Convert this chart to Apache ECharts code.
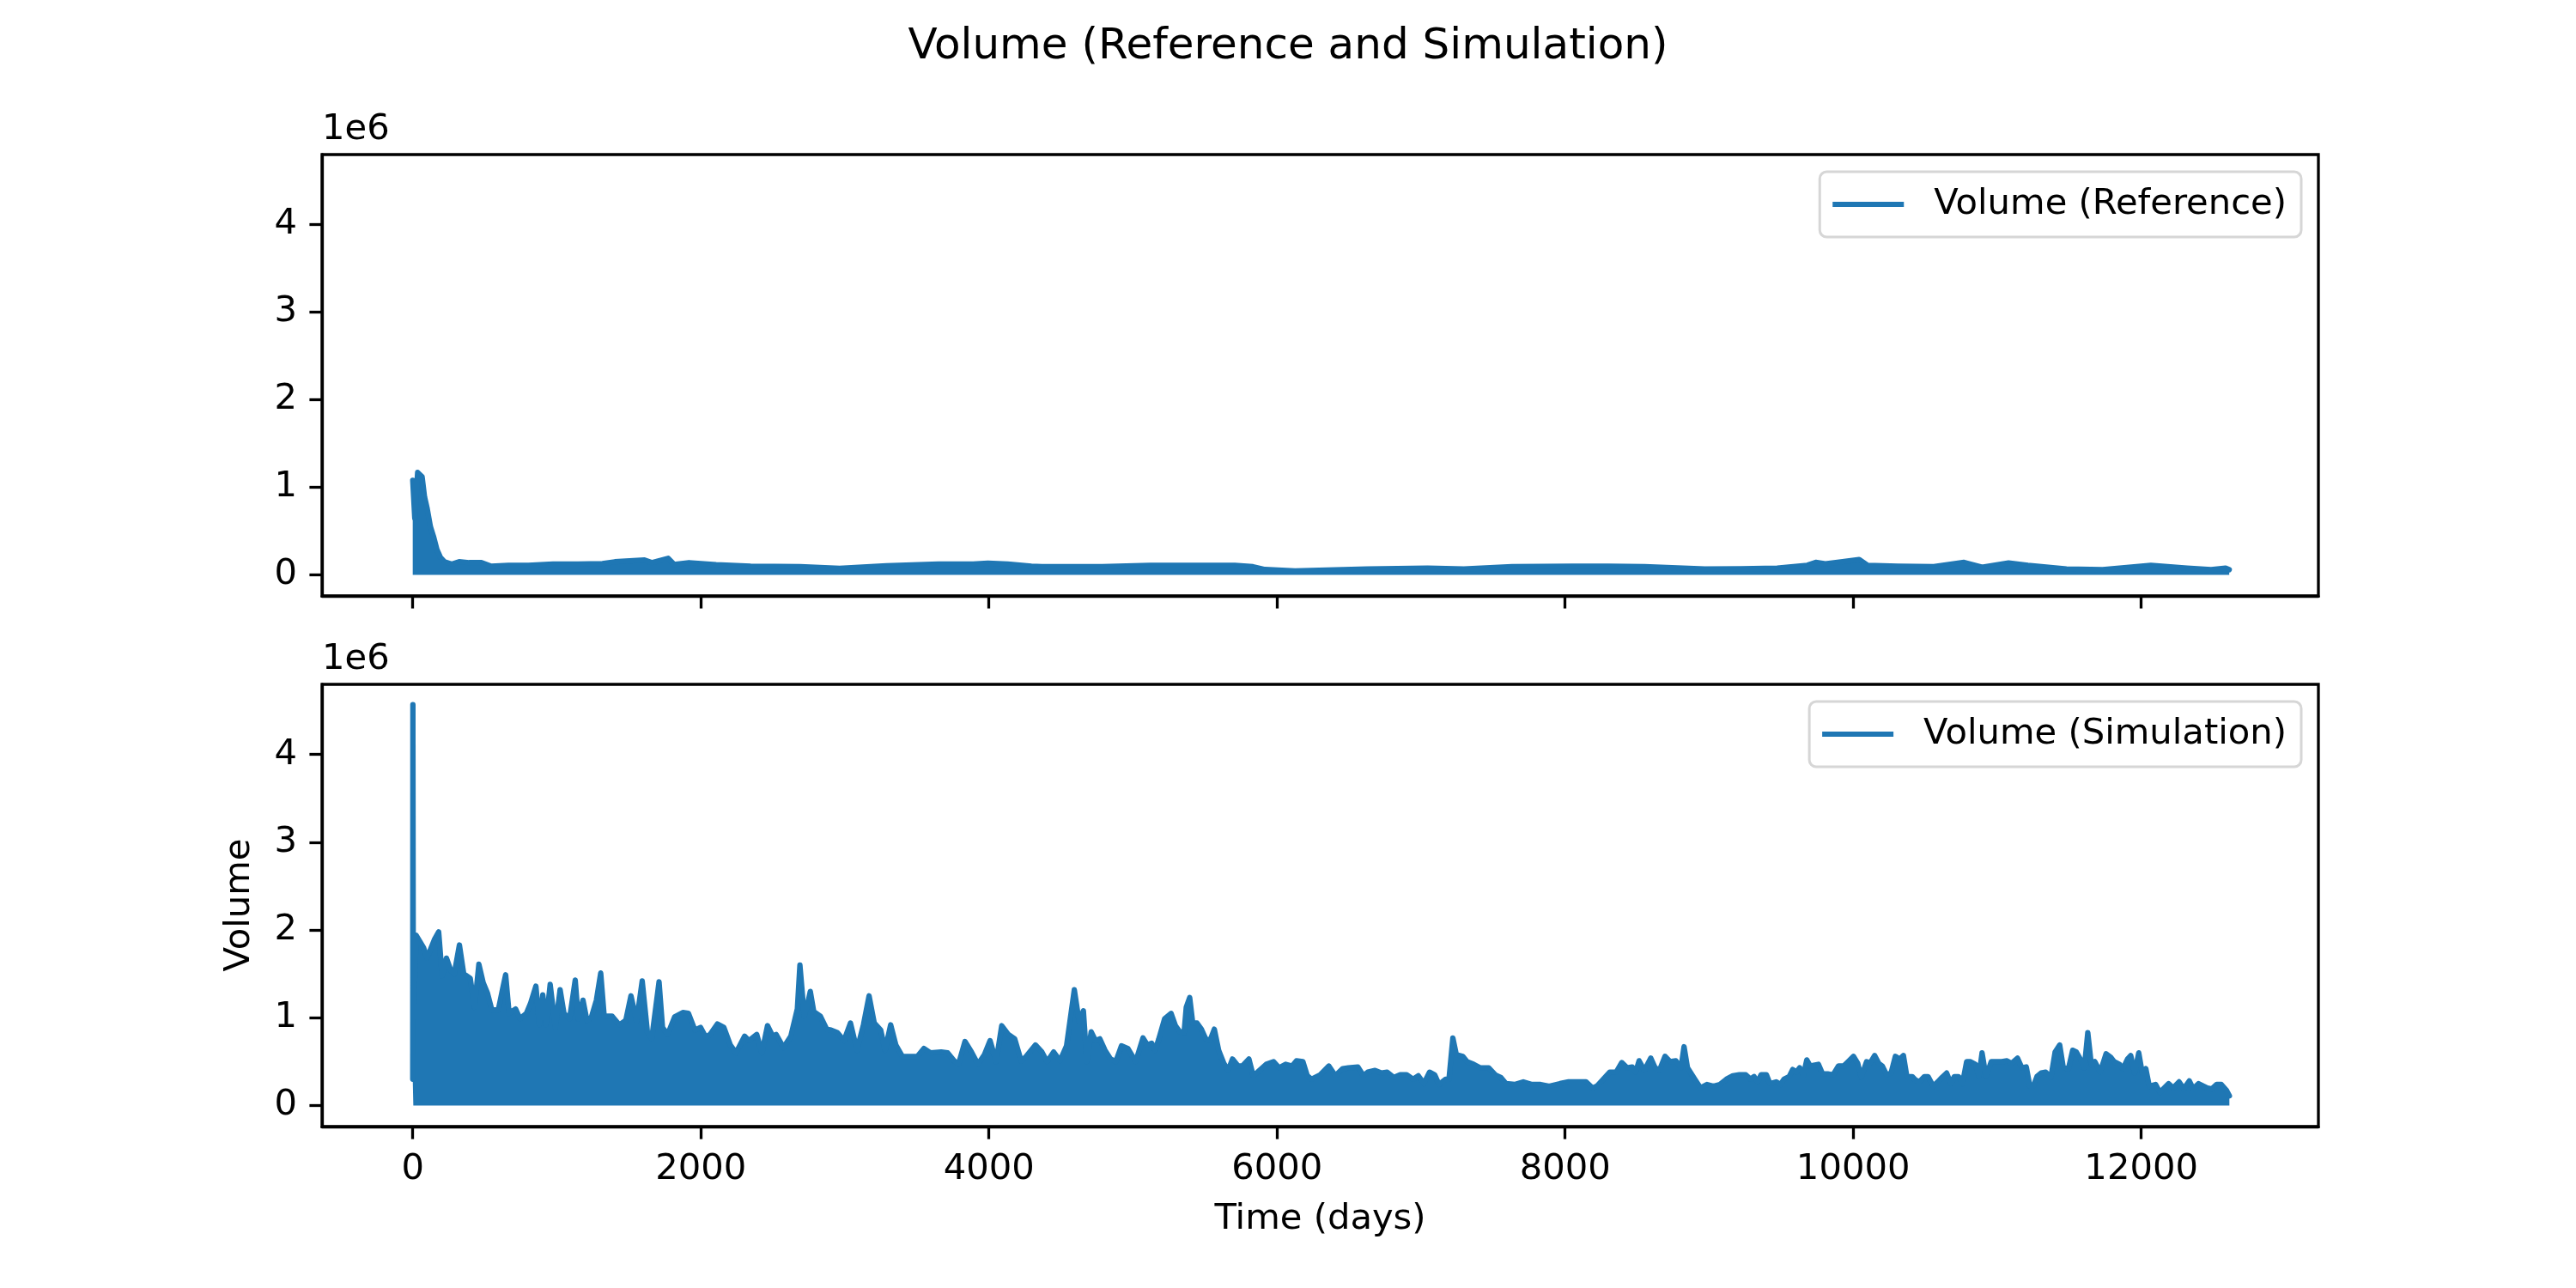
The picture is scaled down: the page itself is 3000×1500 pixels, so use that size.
<!DOCTYPE html>
<html>
<head>
<meta charset="utf-8">
<script src="https://cdn.jsdelivr.net/npm/echarts@6/dist/echarts.min.js"></script>
<style>
html, body { margin: 0; padding: 0; background: #fff; }
#chart { width: 3000px; height: 1500px; }
</style>
</head>
<body>
<div id="chart"></div>
<script>
// upper edge of the daily volume band (day, volume)
var refDays = [0, 14, 34, 65, 82, 100, 123, 144, 168, 192, 220, 271, 322, 391, 477, 545, 665, 803, 974, 1146,
	1317, 1403, 1609, 1660, 1773, 1814, 1917, 2106, 2346, 2689, 2963, 3289, 3650, 3890, 3993, 4130, 4295, 4368, 4786, 5121,
	5289, 5707, 5833, 5916, 6125, 6627, 7046, 7297, 7632, 8050, 8301, 8552, 8971, 9222, 9473, 9682, 9740, 9807, 9891, 10042,
	10100, 10309, 10560, 10770, 10895, 11079, 11213, 11481, 11732, 12067, 12318, 12485, 12586, 12611];
var refVolume = [1.08e6, 0.65e6, 1.17e6, 1.12e6, 0.89e6, 0.76e6, 0.55e6, 0.44e6, 0.29e6, 0.20e6,
	0.15e6, 0.124e6, 0.15e6, 0.14e6, 0.14e6, 0.10e6, 0.11e6, 0.11e6, 0.124e6, 0.124e6,
	0.13e6, 0.15e6, 0.17e6, 0.14e6, 0.19e6, 0.12e6, 0.14e6, 0.116e6, 0.10e6, 0.095e6,
	0.075e6, 0.105e6, 0.124e6, 0.124e6, 0.135e6, 0.124e6, 0.10e6, 0.094e6, 0.094e6, 0.11e6,
	0.11e6, 0.11e6, 0.094e6, 0.062e6, 0.045e6, 0.068e6, 0.078e6, 0.068e6, 0.094e6, 0.10e6,
	0.10e6, 0.094e6, 0.068e6, 0.071e6, 0.078e6, 0.11e6, 0.143e6, 0.127e6, 0.143e6, 0.176e6,
	0.11e6, 0.10e6, 0.094e6, 0.143e6, 0.088e6, 0.137e6, 0.11e6, 0.068e6, 0.061e6, 0.11e6,
	0.078e6, 0.061e6, 0.078e6, 0.06e6];

var simDays = [0, 1, 4, 24, 75, 99, 150, 180, 204, 234, 264, 288, 324, 354, 399, 429, 459, 489, 519, 549,
	594, 624, 645, 669, 714, 744, 789, 819, 855, 879, 903, 924, 954, 990, 1023, 1050, 1089, 1128, 1149, 1182,
	1209, 1239, 1275, 1305, 1329, 1383, 1434, 1479, 1515, 1554, 1593, 1629, 1659, 1710, 1734, 1770, 1818, 1875, 1914, 1959,
	1998, 2034, 2064, 2115, 2160, 2205, 2244, 2304, 2334, 2388, 2424, 2463, 2499, 2523, 2574, 2625, 2670, 2688, 2718, 2739,
	2760, 2784, 2829, 2874, 2904, 2949, 2994, 3039, 3084, 3129, 3168, 3204, 3249, 3279, 3318, 3354, 3399, 3459, 3504, 3549,
	3594, 3669, 3714, 3759, 3789, 3834, 3879, 3924, 3969, 4008, 4050, 4089, 4134, 4179, 4224, 4254, 4323, 4368, 4404, 4449,
	4494, 4539, 4593,
	4626, 4656, 4680, 4710, 4740, 4770, 4806, 4845, 4881, 4920, 4965, 5019, 5070, 5100, 5130, 5154, 5178, 5220, 5265, 5295,
	5325, 5355, 5370, 5394, 5415, 5445, 5475, 5505, 5535, 5565, 5595, 5631, 5661, 5691, 5730, 5760, 5805, 5835, 5865, 5925,
	5976, 6015, 6060, 6105, 6135, 6180, 6210, 6240, 6300, 6360, 6405, 6456, 6495, 6561, 6600, 6630, 6681, 6726, 6765, 6810,
	6855, 6900, 6945, 6981, 7020, 7059, 7095, 7125, 7170, 7194, 7221, 7245, 7290, 7320, 7365, 7410, 7470, 7515, 7554, 7590,
	7650, 7710, 7770, 7830, 7890, 7965, 8025, 8085, 8145, 8190, 8220, 8265, 8310, 8355, 8394, 8430, 8466, 8490, 8514, 8550,
	8595, 8625, 8655, 8694, 8730, 8769, 8805, 8826, 8850, 8901, 8940, 8985, 9030, 9075, 9120, 9165, 9210, 9255,
	9288, 9312, 9337, 9361, 9398, 9422, 9466, 9495, 9520, 9556, 9580, 9605, 9629, 9654, 9678, 9702, 9727, 9759, 9788, 9824,
	9861, 9898, 9934, 9971, 10002, 10032, 10056, 10093, 10117, 10149, 10178, 10202, 10232, 10263, 10293, 10324, 10349, 10373, 10410, 10434,
	10459, 10495, 10520, 10556, 10588, 10617, 10649, 10678, 10702, 10732, 10759, 10788, 10812, 10849, 10873, 10895, 10922, 10959, 10995, 11032,
	11068, 11100, 11141, 11171, 11202, 11227, 11251, 11276, 11305, 11337, 11373, 11402, 11434, 11459, 11495, 11524, 11549, 11580, 11605, 11629,
	11654, 11678, 11715, 11756, 11788, 11812, 11849, 11873, 11905, 11927, 11954, 11983, 12007, 12032, 12056, 12100, 12129, 12190, 12222, 12263,
	12295, 12334, 12361, 12398, 12434, 12458, 12490, 12524, 12556, 12593, 12612];
var simVolume = [0.30e6, 4.57e6, 1.00e6, 1.94e6, 1.80e6, 1.68e6, 1.89e6, 1.98e6, 1.48e6, 1.68e6,
	1.54e6, 1.50e6, 1.83e6, 1.50e6, 1.45e6, 1.12e6, 1.61e6, 1.40e6, 1.28e6, 1.09e6,
	1.09e6, 1.33e6, 1.49e6, 1.05e6, 1.10e6, 0.99e6, 1.05e6, 1.17e6, 1.36e6, 0.92e6,
	1.26e6, 0.92e6, 1.38e6, 0.89e6, 1.32e6, 1.05e6, 0.99e6, 1.43e6, 0.99e6, 1.20e6,
	0.97e6, 1.00e6, 1.20e6, 1.51e6, 1.02e6, 1.02e6, 0.92e6, 0.97e6, 1.25e6, 0.96e6,
	1.42e6, 0.84e6, 0.76e6, 1.41e6, 0.89e6, 0.81e6, 1.01e6, 1.06e6, 1.05e6, 0.86e6,
	0.89e6, 0.78e6, 0.81e6, 0.93e6, 0.89e6, 0.69e6, 0.60e6, 0.79e6, 0.74e6, 0.81e6,
	0.60e6, 0.91e6, 0.79e6, 0.81e6, 0.66e6, 0.79e6, 1.10e6, 1.60e6, 1.02e6, 1.14e6,
	1.30e6, 1.07e6, 1.02e6, 0.87e6, 0.86e6, 0.83e6, 0.74e6, 0.94e6, 0.63e6, 0.92e6,
	1.25e6, 0.94e6, 0.86e6, 0.63e6, 0.92e6, 0.69e6, 0.56e6, 0.56e6, 0.56e6, 0.65e6,
	0.60e6, 0.61e6, 0.60e6, 0.51e6, 0.47e6, 0.73e6, 0.61e6, 0.47e6, 0.58e6, 0.74e6,
	0.50e6, 0.91e6, 0.81e6, 0.76e6, 0.51e6, 0.55e6, 0.69e6, 0.61e6, 0.50e6, 0.61e6,
	0.51e6, 0.68e6, 1.32e6,
	0.96e6, 1.08e6, 0.50e6, 0.84e6, 0.74e6, 0.76e6, 0.63e6, 0.53e6, 0.50e6, 0.68e6,
	0.65e6, 0.50e6, 0.77e6, 0.69e6, 0.71e6, 0.63e6, 0.75e6, 0.99e6, 1.05e6, 0.91e6,
	0.84e6, 0.83e6, 1.12e6, 1.23e6, 0.94e6, 0.94e6, 0.87e6, 0.76e6, 0.74e6, 0.87e6,
	0.63e6, 0.48e6, 0.40e6, 0.53e6, 0.45e6, 0.45e6, 0.53e6, 0.34e6, 0.38e6, 0.47e6,
	0.50e6, 0.43e6, 0.47e6, 0.45e6, 0.51e6, 0.50e6, 0.34e6, 0.30e6, 0.35e6, 0.45e6,
	0.34e6, 0.42e6, 0.43e6, 0.44e6, 0.34e6, 0.38e6, 0.40e6, 0.37e6, 0.38e6, 0.32e6,
	0.35e6, 0.35e6, 0.30e6, 0.34e6, 0.25e6, 0.38e6, 0.35e6, 0.24e6, 0.30e6, 0.30e6,
	0.77e6, 0.58e6, 0.56e6, 0.50e6, 0.47e6, 0.43e6, 0.43e6, 0.35e6, 0.32e6, 0.25e6,
	0.24e6, 0.27e6, 0.24e6, 0.24e6, 0.22e6, 0.25e6, 0.27e6, 0.27e6, 0.27e6, 0.20e6,
	0.22e6, 0.30e6, 0.38e6, 0.38e6, 0.49e6, 0.43e6, 0.44e6, 0.38e6, 0.51e6, 0.40e6,
	0.54e6, 0.43e6, 0.40e6, 0.56e6, 0.50e6, 0.51e6, 0.43e6, 0.67e6, 0.43e6, 0.30e6,
	0.20e6, 0.24e6, 0.22e6, 0.24e6, 0.30e6, 0.34e6, 0.35e6, 0.35e6,
	0.30e6, 0.33e6, 0.27e6, 0.35e6, 0.35e6, 0.25e6, 0.27e6, 0.24e6, 0.30e6, 0.33e6,
	0.41e6, 0.38e6, 0.43e6, 0.34e6, 0.52e6, 0.45e6, 0.46e6, 0.47e6, 0.36e6, 0.36e6,
	0.35e6, 0.45e6, 0.45e6, 0.51e6, 0.56e6, 0.48e6, 0.32e6, 0.50e6, 0.48e6, 0.57e6,
	0.48e6, 0.45e6, 0.35e6, 0.37e6, 0.56e6, 0.53e6, 0.57e6, 0.33e6, 0.33e6, 0.29e6,
	0.27e6, 0.33e6, 0.33e6, 0.22e6, 0.27e6, 0.32e6, 0.37e6, 0.25e6, 0.33e6, 0.33e6,
	0.25e6, 0.50e6, 0.50e6, 0.47e6, 0.33e6, 0.60e6, 0.33e6, 0.50e6, 0.50e6, 0.50e6,
	0.51e6, 0.48e6, 0.54e6, 0.43e6, 0.44e6, 0.22e6, 0.22e6, 0.33e6, 0.37e6, 0.38e6,
	0.32e6, 0.61e6, 0.69e6, 0.43e6, 0.42e6, 0.63e6, 0.61e6, 0.52e6, 0.43e6, 0.83e6,
	0.46e6, 0.50e6, 0.38e6, 0.59e6, 0.55e6, 0.50e6, 0.47e6, 0.42e6, 0.53e6, 0.57e6,
	0.37e6, 0.60e6, 0.37e6, 0.42e6, 0.22e6, 0.24e6, 0.15e6, 0.25e6, 0.20e6, 0.27e6,
	0.19e6, 0.28e6, 0.19e6, 0.25e6, 0.22e6, 0.20e6, 0.19e6, 0.24e6, 0.24e6, 0.17e6,
	0.11e6];

var xTicks = [0, 2000, 4000, 6000, 8000, 10000, 12000];
var yTicks = [0, 1e6, 2e6, 3e6, 4e6];

var FONT = 'DejaVu Sans';
var BLUE = '#1f77b4';
var FS = 41.7;

function pairs(days, vols) {
	return days.map(function (d, i) { return [d, vols[i]]; });
}

function makeX(idx, withLabels) {
	var ax = {
		type: 'value',
		gridIndex: idx,
		min: -630,
		max: 13230,
		axisLine: { show: true, onZero: false, lineStyle: { color: '#000', width: 3.3 } },
		axisTick: { show: true, customValues: xTicks, length: 14.6, lineStyle: { color: '#000', width: 3.3 } },
		axisLabel: {
			show: withLabels,
			customValues: xTicks,
			margin: 29,
			color: '#000',
			fontSize: FS,
			fontFamily: FONT,
			formatter: function (v) { return String(v); }
		},
		splitLine: { show: false }
	};
	if (withLabels) {
		ax.name = 'Time (days)';
		ax.nameLocation = 'middle';
		ax.nameGap = 108;
		ax.nameTextStyle = { fontSize: FS, fontFamily: FONT, color: '#000', verticalAlign: 'middle' };
	}
	return ax;
}

function makeY(idx) {
	return {
		type: 'value',
		gridIndex: idx,
		min: -240000,
		max: 4800000,
		name: '1e6',
		nameLocation: 'end',
		nameGap: 8,
		nameTextStyle: { align: 'left', verticalAlign: 'bottom', fontSize: FS, fontFamily: FONT, color: '#000' },
		axisLine: { show: true, onZero: false, lineStyle: { color: '#000', width: 3.3 } },
		axisTick: { show: true, customValues: yTicks, length: 14.6, lineStyle: { color: '#000', width: 3.3 } },
		axisLabel: {
			customValues: yTicks,
			margin: 29,
			color: '#000',
			fontSize: FS,
			fontFamily: FONT,
			formatter: function (v) { return String(v / 1e6); }
		},
		splitLine: { show: false }
	};
}

function makeLegend(name, top) {
	return {
		data: [name],
		right: 320,
		top: top,
		icon: 'rect',
		itemWidth: 83,
		itemHeight: 6,
		padding: [14, 17, 14, 15],
		borderColor: '#d6d6d6',
		borderWidth: 3,
		borderRadius: 8,
		backgroundColor: 'rgba(255,255,255,0.8)',
		selectedMode: false,
		textStyle: { fontSize: FS, fontFamily: FONT, color: '#000', lineHeight: 48, padding: [0, 0, 0, 30] }
	};
}

function makeSeries(name, idx, data) {
	return {
		type: 'line',
		name: name,
		xAxisIndex: idx,
		yAxisIndex: idx,
		data: data,
		showSymbol: false,
		symbol: 'none',
		silent: true,
		lineStyle: { color: BLUE, width: 6.25, cap: 'round', join: 'round' },
		itemStyle: { color: BLUE },
		areaStyle: { color: BLUE, opacity: 1, origin: 'auto' }
	};
}

var myChart = echarts.init(document.getElementById('chart'));

var option = {
	animation: false,
	backgroundColor: '#fff',
	title: {
		text: 'Volume (Reference and Simulation)',
		left: 'center',
		top: 30,
		padding: 0,
		textStyle: { fontSize: 50, fontWeight: 'normal', fontFamily: FONT, color: '#000' }
	},
	grid: [
		{ left: 375, right: 300, top: 180, height: 514, show: true, borderColor: '#000', borderWidth: 3.3, outerBoundsMode: 'none' },
		{ left: 375, right: 300, top: 797, height: 515, show: true, borderColor: '#000', borderWidth: 3.3, outerBoundsMode: 'none' }
	],
	xAxis: [makeX(0, false), makeX(1, true)],
	yAxis: [makeY(0), makeY(1)],
	legend: [makeLegend('Volume (Reference)', 200), makeLegend('Volume (Simulation)', 817)],
	graphic: [{
		type: 'text',
		x: 279,
		y: 1054,
		rotation: Math.PI / 2,
		style: {
			text: 'Volume',
			font: FS + 'px "DejaVu Sans"',
			fill: '#000',
			textAlign: 'center',
			textVerticalAlign: 'middle',
			align: 'center',
			verticalAlign: 'middle'
		}
	}],
	series: [
		makeSeries('Volume (Reference)', 0, pairs(refDays, refVolume)),
		makeSeries('Volume (Simulation)', 1, pairs(simDays, simVolume))
	]
};
myChart.setOption(option);
</script>
</body>
</html>
